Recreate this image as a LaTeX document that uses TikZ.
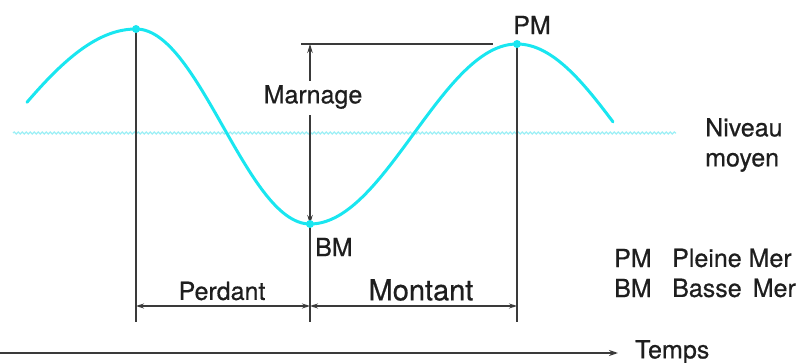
\documentclass[tikz,border=0pt]{standalone}
\usepackage{fontspec}
\setmainfont{TeX Gyre Heros}[FakeBold=0.6]
\usetikzlibrary{arrows.meta,decorations.pathmorphing}
\definecolor{tidecyan}{HTML}{19E6F0}
\definecolor{meancyan}{HTML}{9CEFF5}
\definecolor{linegray}{HTML}{3A3A3A}
\definecolor{textgray}{HTML}{1E1E1E}
\tikzset{
  tide/.style={draw=tidecyan, line width=3pt, line join=round, line cap=round},
  meanline/.style={draw=meancyan, line width=1.2pt, decorate, decoration={snake, amplitude=1.1pt, segment length=4pt}},
  guide/.style={draw=linegray, line width=1.2pt},
  dim/.style={draw=linegray, line width=1.1pt, {Stealth[length=8pt,width=5pt]}-{Stealth[length=8pt,width=5pt]}},
  dimup/.style={draw=linegray, line width=1.1pt, -{Stealth[length=9pt,width=5.5pt]}},
  axis/.style={draw=linegray, line width=1.8pt, -{Stealth[length=9pt,width=6pt]}},
  lbl/.style={text=textgray, inner sep=0pt, font=\fontsize{25}{30}\selectfont},
  biglbl/.style={text=textgray, inner sep=0pt, font=\fontsize{29}{34}\selectfont},
  dot/.style={fill=tidecyan, draw=none, circle, minimum size=8pt, inner sep=0pt}
}
\begin{document}
\begin{tikzpicture}[x=1pt,y=-1pt]
\useasboundingbox (0,0) rectangle (796,363);
% key points
\coordinate (pm1) at (136,29);
\coordinate (bm) at (310,224);
\coordinate (pm2) at (517,44);
\coordinate (mtop) at (310,44);
\coordinate (htl) at (301,44);
\coordinate (htr) at (493,44);
\coordinate (v1b) at (136,322);
\coordinate (v2b) at (310,322);
\coordinate (v3b) at (517,322);
\coordinate (d1) at (136,306);
\coordinate (d2) at (310,306);
\coordinate (d3) at (517,306);
\coordinate (ml) at (13,133);
\coordinate (mr) at (676,133);
\coordinate (ax0) at (0,353);
\coordinate (ax1) at (618,353);
% mean level
\draw[meanline] (ml) -- (mr);
% guides
\draw[guide] (pm1) -- (v1b);
\draw[guide] (pm2) -- (v3b);
\draw[guide] (bm) -- (v2b);
\draw[guide] (htl) -- (htr);
% labels
\node[lbl] (marnage) at (313,97) {Marnage};
\draw[dimup] (marnage.north -| mtop) ++(0,-4) coordinate (mu) -- (mtop);
\draw[dimup] (marnage.south -| bm) ++(0,6) coordinate (md) -- (bm);
% tide curve
\draw[tide] plot[domain=27:136,samples=50] (\x,{134-105*cos((\x-136)/271*180)})
  -- plot[domain=136:310,samples=80] (\x,{126.5-97.5*cos((\x-136)/174*180)})
  -- plot[domain=310:517,samples=80] (\x,{134+90*cos((\x-310)/207*180)})
  -- plot[domain=517:613,samples=50] (\x,{134-90*cos((\x-517)/210*180)});
\node[dot] at (pm1) {};
\node[dot] at (bm) {};
\node[dot] at (pm2) {};
% durations
\draw[dim] (d1) -- (d2);
\draw[dim] (d2) -- (d3);
\node[lbl] (perdant) at (222,291) {Perdant};
\node[biglbl] (montant) at (421,290) {Montant};
% point labels
\node[lbl] (pmlbl) at (532,25) {PM};
\node[lbl, anchor=west] (bmlbl) at (315,247) {BM};
% niveau moyen
\node[lbl, anchor=west, align=left, font=\fontsize{25}{30}\selectfont] (niveau) at (705,145) {Niveau\\moyen};
% legend
\node[lbl, anchor=west] (lpm) at (614,258) {PM};
\node[lbl, anchor=west] (lpmt) at (672,258) {Pleine Mer};
\node[lbl, anchor=west] (lbm) at (614,288) {BM};
\node[lbl, anchor=west] (lbmt) at (672,288) {Basse\, Mer};
% time axis
\node[lbl, anchor=west] (temps) at (635,352) {Temps};
\draw[axis] (ax0) -- (ax1);
\end{tikzpicture}
\end{document}
